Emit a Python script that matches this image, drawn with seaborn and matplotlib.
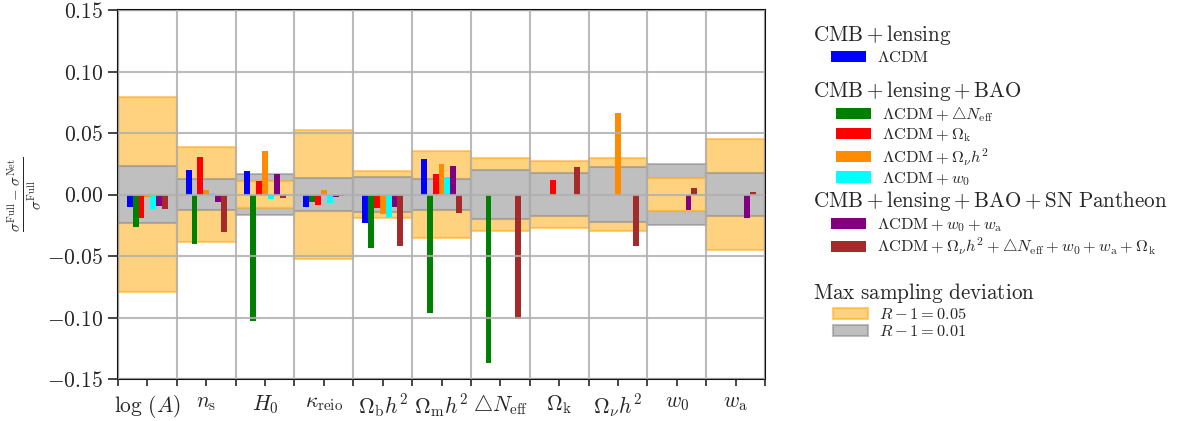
import numpy as np
import pandas as pd
import matplotlib
matplotlib.use("Agg")
import matplotlib.pyplot as plt
import seaborn as sns
from matplotlib.patches import Patch
from matplotlib.ticker import FuncFormatter

sns.set_style("white")
plt.rcParams["mathtext.fontset"] = "cm"
plt.rcParams["font.family"] = ["DejaVu Sans"]

# ---------------- data ----------------
params = [r"$\log\,(A)$", r"$n_\mathrm{s}$", r"$H_0$", r"$\kappa_\mathrm{reio}$",
          r"$\Omega_\mathrm{b}h^2$", r"$\Omega_\mathrm{m}h^2$", r"${\bigtriangleup}N_\mathrm{eff}$",
          r"$\Omega_\mathrm{k}$", r"$\Omega_\nu h^2$", r"$w_0$", r"$w_\mathrm{a}$"]

models = ["LCDM", "LCDM+Neff", "LCDM+Ok", "LCDM+mnu", "LCDM+w0", "LCDM+w0wa", "full"]
model_labels = [r"$\Lambda\mathrm{CDM}$",
                r"$\Lambda\mathrm{CDM}+{\bigtriangleup}N_\mathrm{eff}$",
                r"$\Lambda\mathrm{CDM}+\Omega_\mathrm{k}$",
                r"$\Lambda\mathrm{CDM}+\Omega_\nu h^2$",
                r"$\Lambda\mathrm{CDM}+w_0$",
                r"$\Lambda\mathrm{CDM}+w_0+w_\mathrm{a}$",
                r"$\Lambda\mathrm{CDM}+\Omega_\nu h^2+{\bigtriangleup}N_\mathrm{eff}+w_0+w_\mathrm{a}+\Omega_\mathrm{k}$"]
model_colors = ["#0000ff", "#008000", "#ff0000", "#ff8c00", "#00ffff", "#800080", "#a52a2a"]

nan = np.nan
v_lcdm = [-0.0103, 0.0198, 0.0187, -0.0103, -0.0233, 0.0285, nan, nan, nan, nan, nan]
v_neff = [-0.0266, -0.0404, -0.1027, -0.0062, -0.0436, -0.0962, -0.1366, nan, nan, nan, nan]
v_ok = [-0.0193, 0.0304, 0.0106, -0.0087, -0.0111, 0.0163, nan, 0.0114, nan, nan, nan]
v_mnu = [-0.0021, 0.0033, 0.0352, 0.0033, -0.0160, 0.0244, nan, nan, 0.0659, nan, nan]
v_w0 = [-0.0114, 0.0010, -0.0035, -0.0071, -0.0182, 0.0146, nan, nan, nan, nan, nan]
v_w0wa = [-0.0095, -0.0062, 0.0163, -0.0022, -0.0103, 0.0228, nan, nan, nan, -0.0122, -0.0195]
v_full = [-0.0114, -0.0306, -0.0030, -0.0014, -0.0420, -0.0152, -0.1010, 0.0220, -0.0420, 0.0049, 0.0024]

band_05 = [0.0793, 0.0383, 0.0108, 0.0528, 0.0193, 0.0352, 0.0293, 0.0273, 0.0293, 0.0132, 0.0453]
band_01 = [0.0230, 0.0130, 0.0163, 0.0133, 0.0141, 0.0122, 0.0200, 0.0176, 0.0222, 0.0252, 0.0171]

group_titles = [r"$\mathrm{CMB+lensing}$", r"$\mathrm{CMB+lensing+BAO}$",
                r"$\mathrm{CMB+lensing+BAO+SN\ Pantheon}$", r"$\mathrm{Max\ sampling\ deviation}$"]
band_labels = [r"$R-1=0.05$", r"$R-1=0.01$"]
yticks = [-0.15, -0.10, -0.05, 0.00, 0.05, 0.10, 0.15]

# ---------------- long table ----------------
all_vals = [v_lcdm, v_neff, v_ok, v_mnu, v_w0, v_w0wa, v_full]
rows = []
for m, vals in zip(models, all_vals):
    for p, v in zip(params, vals):
        rows.append({"param": p, "model": m, "value": v})
df = pd.DataFrame(rows).dropna()

# ---------------- figure ----------------
fig = plt.figure(figsize=(11.83, 4.21), dpi=100)
ax = fig.add_axes([118 / 1183, 1 - 379 / 421, (765 - 118) / 1183, (379 - 10) / 421])

sns.barplot(data=df, x="param", y="value", hue="model", order=params, hue_order=models,
            palette=dict(zip(models, model_colors)), width=0.7, saturation=1,
            errorbar=None, legend=False, linewidth=0, ax=ax, zorder=1)

pos = np.arange(len(params))
orange_face = "#ffd280"
orange_edge = (1.0, 0.647, 0.0, 0.5)
gray_face = "#bfbfbf"
gray_edge = (0.5, 0.5, 0.5, 0.5)
b05 = np.array(band_05)
b01 = np.array(band_01)
bars05 = ax.bar(pos, 2 * b05, bottom=-b05, width=1.0, color=orange_face,
                edgecolor=orange_edge, linewidth=1.5)
bars01 = ax.bar(pos, 2 * b01, bottom=-b01, width=1.0, color=gray_face,
                edgecolor=gray_edge, linewidth=1.5)
for p5, p1, a, b in zip(bars05, bars01, b05, b01):
    if a >= b:
        p5.set_zorder(0.3); p1.set_zorder(0.4)
    else:
        p1.set_zorder(0.3); p5.set_zorder(0.4)

ax.set_xlim(-0.5, len(params) - 0.5)
ax.set_ylim(-0.15, 0.15)
ax.set_yticks(yticks)
ax.yaxis.set_major_formatter(FuncFormatter(lambda v, p: f"${v:.2f}$"))
ax.set_xticks(pos)
ax.set_xticklabels(params)
ax.set_xticks(np.arange(-0.5, len(params)), minor=True)
ax.set_xlabel("")
ax.set_axisbelow(False)
ax.grid(False)
ax.xaxis.grid(True, which="minor", color="#b0b0b0", linewidth=1.5, alpha=0.85)
ax.yaxis.grid(True, which="major", color="#b0b0b0", linewidth=1.5, alpha=0.85)
ax.tick_params(axis="x", which="both", direction="out", length=5, width=1.2,
               labelsize=15.5, pad=5, bottom=True)
ax.tick_params(axis="y", which="major", direction="out", length=7, width=1.2,
               labelsize=15.5, left=True)
for s in ax.spines.values():
    s.set_linewidth(1.5)
    s.set_color("#111111")
ax.set_ylabel(r"$\frac{\sigma^\mathrm{Full}-\sigma^\mathrm{Net}}{\sigma^\mathrm{Full}}$",
              fontsize=15.5)
ax.yaxis.set_label_coords(-0.116, 0.5)

# ---------------- legends ----------------
W, H = 1183, 421
title_x = 813 / W
title_base = [41, 97, 207, 299]
for t, yb in zip(group_titles, title_base):
    fig.text(title_x, 1 - yb / H, t, fontsize=15.2, va="baseline", ha="left")

def add_leg(handles, x_px, top_px):
    fig.legend(handles=handles, loc="upper left", bbox_to_anchor=(x_px / W, 1 - top_px / H),
               frameon=False, fontsize=11.8, handlelength=2.13, handleheight=0.7,
               handletextpad=0.7, borderpad=0, borderaxespad=0, labelspacing=0.14)

hs = [Patch(facecolor=c, edgecolor="none", label=l) for c, l in zip(model_colors, model_labels)]
add_leg(hs[0:1], 831, 50)
add_leg(hs[1:5], 836, 105)
add_leg(hs[5:7], 831, 216)
add_leg([Patch(facecolor=orange_face, edgecolor=orange_edge, linewidth=1.5, label=band_labels[0]),
         Patch(facecolor=gray_face, edgecolor=gray_edge, linewidth=1.5, label=band_labels[1])],
        833, 307)

fig.savefig("out.png", dpi=100)
